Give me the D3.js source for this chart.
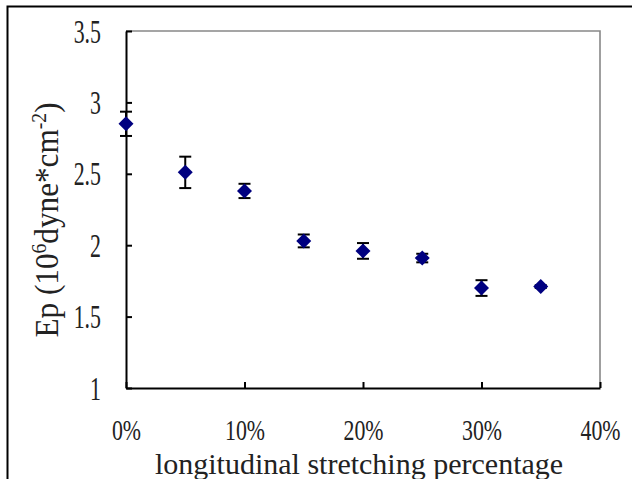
<!DOCTYPE html>
<html>
<head>
<meta charset="utf-8">
<script src="https://cdn.jsdelivr.net/npm/d3@7"></script>
<style>
  body { margin: 0; background: #fff; }
  svg { display: block; }
  text { font-family: "Liberation Serif", "Times New Roman", serif; fill: #222; }
</style>
</head>
<body>
<div id="chart"></div>
<script>
// stretching percentage (%), Ep value and error bar half length
var stretch = [0, 5, 10, 15, 20, 25, 30, 35];
var ep = [2.85, 2.51, 2.38, 2.03, 1.96, 1.91, 1.70, 1.71];
var epErr = [0.085, 0.11, 0.05, 0.045, 0.055, 0.03, 0.055, 0.01];

var xTicks = [0, 10, 20, 30, 40];
var yTicks = [1, 1.5, 2, 2.5, 3, 3.5];

var width = 632;
var height = 479;
var plot = { left: 126, top: 31, right: 600, bottom: 388 };

var svg = d3
  .select("#chart")
  .append("svg")
  .attr("width", width)
  .attr("height", height);

// outer frame (only left and top edges show)
svg
  .append("rect")
  .attr("x", 7.5)
  .attr("y", 6.5)
  .attr("width", 800)
  .attr("height", 800)
  .attr("fill", "none")
  .attr("stroke", "#000")
  .attr("stroke-width", 2);

var xScale = d3.scaleLinear().domain([0, 40]).range([plot.left, plot.right]);
var yScale = d3.scaleLinear().domain([1, 3.5]).range([plot.bottom, plot.top]);

// top and right border of the plot area
svg
  .append("path")
  .attr("d", `M${plot.left},${plot.top}H${plot.right}V${plot.bottom}`)
  .attr("fill", "none")
  .attr("stroke", "#888")
  .attr("stroke-width", 1.6);

/* Axes */
var xAxis = d3
  .axisBottom(xScale)
  .tickValues(xTicks)
  .tickSizeInner(-6)
  .tickSizeOuter(0)
  .tickFormat((d) => d + "%");

var yAxis = d3
  .axisLeft(yScale)
  .tickValues(yTicks)
  .tickSizeInner(-6)
  .tickSizeOuter(0)
  .tickFormat((d) => d);

var gx = svg
  .append("g")
  .attr("transform", `translate(0, ${plot.bottom})`)
  .call(xAxis);

var gy = svg
  .append("g")
  .attr("transform", `translate(${plot.left}, 0)`)
  .call(yAxis);

[gx, gy].forEach(function (g) {
  g.select(".domain").attr("stroke", "#000").attr("stroke-width", 2);
  g.selectAll(".tick line").attr("stroke", "#000").attr("stroke-width", 2);
  g.selectAll(".tick text")
    .attr("font-size", 28)
    .attr("fill", "#222")
    .attr("font-family", "Liberation Serif");
});

gx.selectAll(".tick text")
  .attr("y", null)
  .attr("dy", null)
  .attr("transform", "translate(0, 52) scale(0.78, 1.05)");

gy.selectAll(".tick text")
  .attr("x", null)
  .attr("dy", null)
  .attr("transform", "translate(-25, 11) scale(0.78, 1.18)");

/* Error bars */
var bars = svg.append("g").attr("stroke", "#000").attr("stroke-width", 2);
stretch.forEach(function (s, i) {
  var cx = xScale(s);
  var y1 = yScale(ep[i] + epErr[i]);
  var y2 = yScale(ep[i] - epErr[i]);
  bars.append("line").attr("x1", cx).attr("x2", cx).attr("y1", y1).attr("y2", y2);
  bars.append("line").attr("x1", cx - 6).attr("x2", cx + 6).attr("y1", y1).attr("y2", y1);
  bars.append("line").attr("x1", cx - 6).attr("x2", cx + 6).attr("y1", y2).attr("y2", y2);
});

/* Diamond markers */
var diamond = {
  draw: function (ctx) {
    ctx.moveTo(0, -7.5);
    ctx.lineTo(7.5, 0);
    ctx.lineTo(0, 7.5);
    ctx.lineTo(-7.5, 0);
    ctx.closePath();
  }
};

svg
  .append("g")
  .selectAll("path")
  .data(stretch)
  .enter()
  .append("path")
  .attr("d", d3.symbol().type(diamond))
  .attr("transform", (d, i) => `translate(${xScale(d)}, ${yScale(ep[i])})`)
  .attr("fill", "#000080");

/* Axis titles */
svg
  .append("text")
  .attr("transform", `translate(${(150 + 568) / 2}, 474)`)
  .attr("text-anchor", "middle")
  .attr("font-size", 30)
  .text("longitudinal stretching percentage");

var yTitle = svg
  .append("text")
  .attr("transform", "translate(58, 220) rotate(-90) scale(1.04, 1.1)")
  .attr("text-anchor", "middle")
  .attr("font-size", 30);
yTitle.append("tspan").text("Ep (10");
yTitle.append("tspan").attr("font-size", 19).attr("dy", -11).text("6");
yTitle.append("tspan").attr("dy", 11).text("dyne*cm");
yTitle.append("tspan").attr("font-size", 19).attr("dy", -11).text("-2");
yTitle.append("tspan").attr("dy", 11).text(")");
</script>
</body>
</html>
